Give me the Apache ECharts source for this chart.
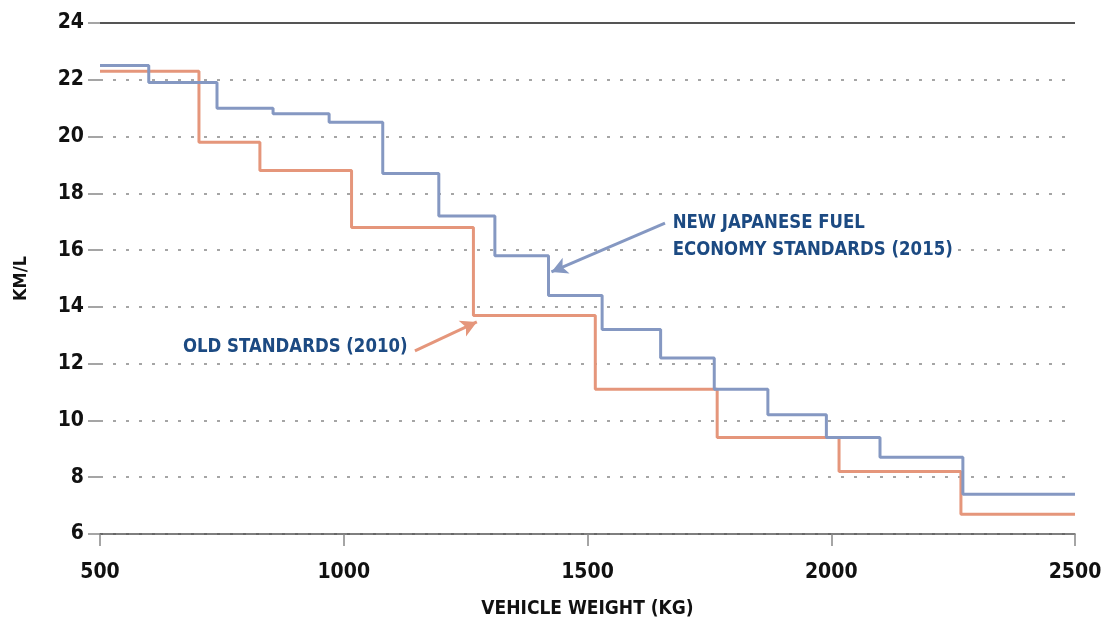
<!DOCTYPE html>
<html>
<head>
<meta charset="utf-8">
<script src="https://cdn.jsdelivr.net/npm/echarts@6/dist/echarts.min.js"></script>
<style>
  html, body { margin: 0; padding: 0; background: #fff; }
  #chart { width: 1103px; height: 620px; }
</style>
</head>
<body>
<div id="chart"></div>
<script>
// step breakpoints (kg) and the km/L level that starts at each one
const newWeights = [500, 600, 740, 855, 970, 1080, 1195, 1310, 1420, 1530, 1650, 1760, 1870, 1990, 2100, 2270, 2500]
const newKmL = [22.5, 21.9, 21.0, 20.8, 20.5, 18.7, 17.2, 15.8, 14.4, 13.2, 12.2, 11.1, 10.2, 9.4, 8.7, 7.4, 7.4]
const oldWeights = [500, 703, 828, 1016, 1266, 1516, 1766, 2016, 2266, 2500]
const oldKmL = [22.3, 19.8, 18.8, 16.8, 13.7, 11.1, 9.4, 8.2, 6.7, 6.7]
const xTicks = [500, 1000, 1500, 2000, 2500]
const yTicks = [6, 8, 10, 12, 14, 16, 18, 20, 22, 24]

const FONT = '"Liberation Sans Narrow", "DejaVu Sans Condensed", "Roboto", sans-serif'
const NAVY = '#1c4a82'
const BLUE = '#8598c2'
const ORANGE = '#e5967b'

const pairs = (xs, ys) => xs.map((x, i) => [x, ys[i]])

const chart = echarts.init(document.getElementById('chart'))
chart.setOption({
  animation: false,
  grid: { left: 100, right: 28, top: 23, bottom: 86, outerBoundsMode: 'none', containLabel: false },
  xAxis: {
    type: 'value',
    min: xTicks[0],
    max: xTicks[xTicks.length - 1],
    interval: 500,
    name: 'VEHICLE WEIGHT (KG)',
    nameLocation: 'middle',
    nameGap: 66,
    nameTextStyle: { fontFamily: FONT, fontWeight: 'bold', fontSize: 19, color: '#111' },
    axisLine: { lineStyle: { color: '#555', width: 1.5 } },
    axisTick: { length: 12, lineStyle: { color: '#888', width: 1.5 } },
    axisLabel: {
      fontFamily: FONT, fontWeight: 'bold', fontSize: 21, color: '#111', margin: 28,
      formatter: v => String(v)
    },
    splitLine: { show: false }
  },
  yAxis: {
    type: 'value',
    min: yTicks[0],
    max: yTicks[yTicks.length - 1],
    interval: 2,
    name: 'KM/L',
    nameLocation: 'middle',
    nameGap: 70,
    nameRotate: 90,
    nameTextStyle: { fontFamily: FONT, fontWeight: 'bold', fontSize: 18, color: '#111' },
    axisLine: { show: false },
    axisTick: { show: true, length: 12, lineStyle: { color: '#888', width: 1.5 } },
    axisLabel: { fontFamily: FONT, fontWeight: 'bold', fontSize: 21, color: '#111', margin: 16 },
    splitLine: { lineStyle: { color: '#888', type: [3, 10], width: 1.5 } }
  },
  series: [
    {
      name: 'Old standards (2010)',
      type: 'line',
      step: 'end',
      symbol: 'none',
      data: pairs(oldWeights, oldKmL),
      lineStyle: { color: ORANGE, width: 3 },
      markLine: {
        silent: true,
        symbol: ['none', 'arrow'],
        symbolSize: [13, 16],
        lineStyle: { color: ORANGE, width: 3, type: 'solid' },
        label: { show: false },
        data: [[
          { coord: [1146, 12.45] },
          { coord: [1273, 13.47] }
        ]]
      },
      z: 2
    },
    {
      name: 'New Japanese fuel economy standards (2015)',
      type: 'line',
      step: 'end',
      symbol: 'none',
      data: pairs(newWeights, newKmL),
      lineStyle: { color: BLUE, width: 3 },
      markLine: {
        silent: true,
        symbol: ['none', 'arrow'],
        symbolSize: [13, 16],
        label: { show: false },
        lineStyle: { color: BLUE, width: 3, type: 'solid' },
        data: [
          [
            { coord: [1659, 16.95] },
            { coord: [1426, 15.23] }
          ]
        ]
      },
      z: 3
    },
    {
      // solid top rule at 24
      type: 'line',
      data: [],
      z: 4,
      markLine: {
        silent: true,
        symbol: ['none', 'none'],
        label: { show: false },
        lineStyle: { color: '#555', width: 2, type: 'solid' },
        data: [{ yAxis: yTicks[yTicks.length - 1] }]
      }
    }
  ],
  graphic: [
    {
      type: 'text', left: 669, top: 207, z: 10,
      style: {
        text: 'NEW JAPANESE FUEL\nECONOMY STANDARDS (2015)',
        fill: NAVY, font: 'bold 20px ' + FONT, lineHeight: 27,
        backgroundColor: '#fff', padding: [2, 4, 0, 4]
      },
      scaleX: 0.92
    },
    {
      type: 'text', left: 183, top: 337, z: 10,
      style: { text: 'OLD STANDARDS (2010)', fill: NAVY, font: 'bold 20px ' + FONT },
      scaleX: 0.92
    }
  ]
})
</script>
</body>
</html>
